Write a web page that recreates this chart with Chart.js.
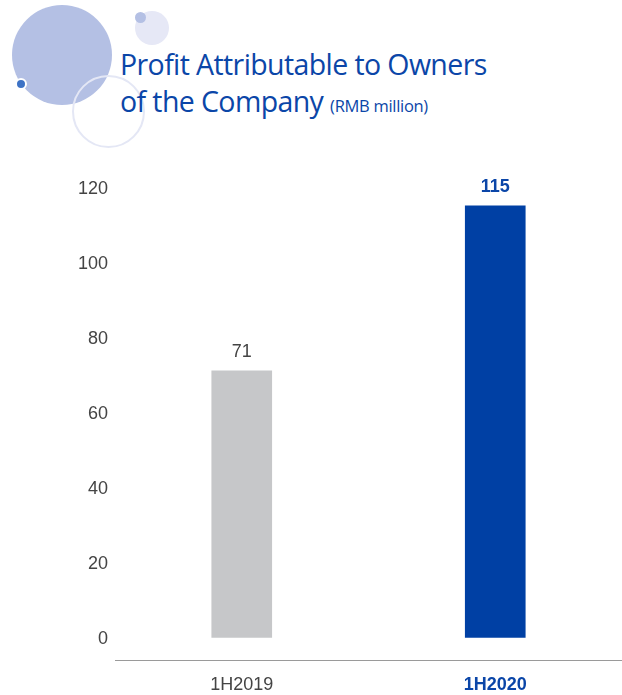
<!DOCTYPE html>
<html>
<head>
<meta charset="utf-8">
<script src="https://cdn.jsdelivr.net/npm/chart.js@4/dist/chart.umd.min.js"></script>
<style>
  html, body { margin: 0; padding: 0; background: #fff; }
  #wrap { position: relative; width: 622px; height: 695px; overflow: hidden; }
  .dot { position: absolute; border-radius: 50%; box-sizing: border-box; }
  #title { position: absolute; left: 120px; top: 46px; color: #0b46a8;
    font-family: "Open Sans", sans-serif; font-size: 28.5px; line-height: 37px; letter-spacing: -0.6px; white-space: nowrap; }
  #title small { font-size: 16.5px; letter-spacing: -0.3px; }
  canvas { position: absolute; left: 0; top: 0; }
</style>
</head>
<body>
<div id="wrap">
  <div class="dot" style="left:12px;top:5px;width:100px;height:100px;background:#b4c0e4"></div>
  <div class="dot" style="left:72px;top:75px;width:73px;height:73px;border:2px solid #e4e7f5"></div>
  <div class="dot" style="left:15px;top:78px;width:12px;height:12px;background:#3d72c5;border:2px solid #fff"></div>
  <div class="dot" style="left:135px;top:11px;width:34px;height:34px;background:#e6e8f6"></div>
  <div class="dot" style="left:135px;top:12px;width:11px;height:11px;background:#b4c0e4"></div>
  <div id="title">Profit Attributable to Owners<br>of the Company <small>(RMB million)</small></div>
  <canvas id="chart" width="622" height="695"></canvas>
</div>
<script>
const categories = ['1H2019', '1H2020'];
const profit = [71, 115];
const yTicks = [0, 20, 40, 60, 80, 100, 120];

const barColors = ['#c6c7c9', '#0040a4'];
const labelColors = ['#444444', '#0b46a8'];
const labelWeights = ['normal', 'bold'];

const valueLabels = {
  id: 'valueLabels',
  afterDatasetsDraw(chart) {
    const ctx = chart.ctx;
    const meta = chart.getDatasetMeta(0);
    ctx.save();
    ctx.textAlign = 'center';
    ctx.textBaseline = 'bottom';
    meta.data.forEach((bar, i) => {
      ctx.fillStyle = labelColors[i];
      ctx.font = labelWeights[i] + ' 18px "Liberation Sans", Arial, sans-serif';
      ctx.fillText(profit[i], bar.x, bar.y - 10);
    });
    ctx.restore();
  }
};

new Chart(document.getElementById('chart'), {
  type: 'bar',
  data: {
    labels: categories,
    datasets: [{ data: profit, backgroundColor: barColors, barThickness: 60 }]
  },
  options: {
    responsive: false,
    animation: false,
    layout: { padding: { top: 187, left: 0, right: 0, bottom: 0 } },
    plugins: { legend: { display: false }, tooltip: { enabled: false } },
    scales: {
      x: {
        grid: { display: false, drawTicks: false },
        border: { display: true, color: '#9a9a9a', width: 1 },
        afterFit: s => { s.height = 35; },
        ticks: {
          padding: 14,
          color: ctx => labelColors[ctx.index],
          font: ctx => ({ family: '"Liberation Sans", Arial, sans-serif', size: 18, weight: labelWeights[ctx.index] })
        }
      },
      y: {
        min: -6,
        max: 120,
        grid: { display: false, drawTicks: false },
        border: { display: false },
        afterBuildTicks: s => { s.ticks = yTicks.map(v => ({ value: v })); },
        afterFit: s => { s.width = 115; },
        ticks: {
          padding: 7,
          labelOffset: 2,
          color: '#444444',
          font: { family: '"Liberation Sans", Arial, sans-serif', size: 18 }
        }
      }
    }
  },
  plugins: [valueLabels]
});
</script>
</body>
</html>
